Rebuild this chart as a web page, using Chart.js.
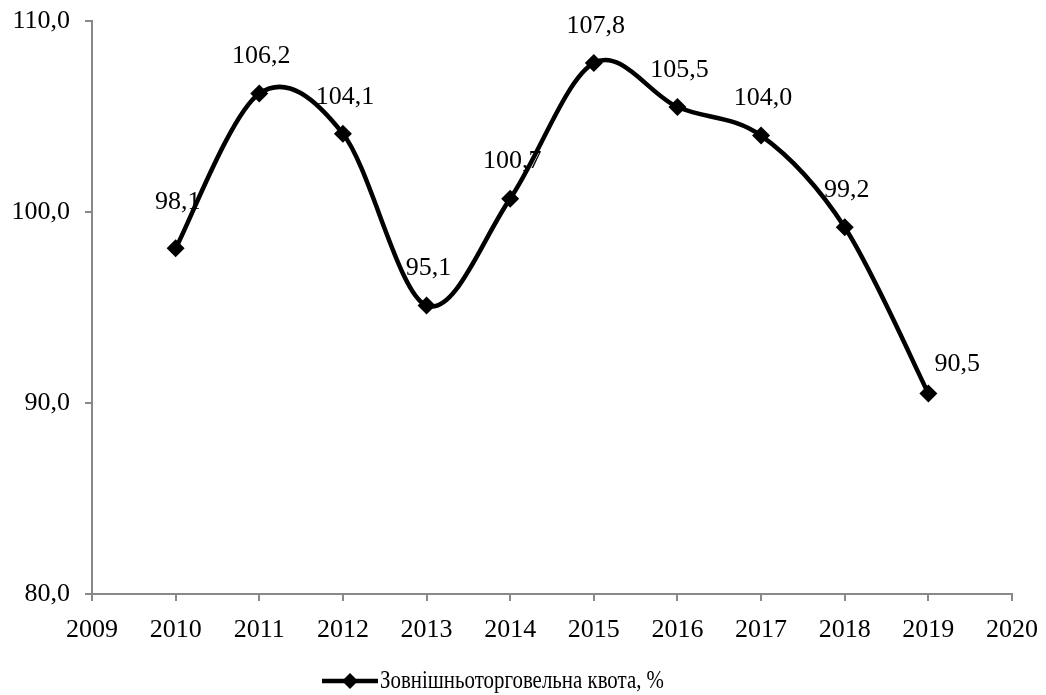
<!DOCTYPE html>
<html>
<head>
<meta charset="utf-8">
<script src="https://cdn.jsdelivr.net/npm/chart.js@4/dist/chart.umd.min.js"></script>
<style>
html, body { margin: 0; padding: 0; background: #fff; }
#wrap { width: 1046px; height: 695px; }
</style>
</head>
<body>
<div id="wrap"><canvas id="graph" width="1046" height="695"></canvas></div>
<script>
var years = [2010, 2011, 2012, 2013, 2014, 2015, 2016, 2017, 2018, 2019];
var quota = [98.1, 106.2, 104.1, 95.1, 100.7, 107.8, 105.5, 104.0, 99.2, 90.5];
var seriesName = "Зовнішньоторговельна квота, %";
var xTicks = [2009, 2010, 2011, 2012, 2013, 2014, 2015, 2016, 2017, 2018, 2019, 2020];
var yTicks = [80, 90, 100, 110];

var serif = '"Liberation Serif", "Times New Roman", serif';
var fontSize = 26;
var axisGray = '#898989';

// label nudges (dx, dy from the point), default sits right above
var labelShift = { 0: [2, -46], 9: [29, -29] };

function comma(v) {
	return v.toFixed(1).replace('.', ',');
}

// value labels go under the line, the curve runs over them
var valueLabels = {
	id: 'valueLabels',
	beforeDatasetsDraw: function(chart) {
		var ctx = chart.ctx;
		var meta = chart.getDatasetMeta(0);
		ctx.save();
		ctx.font = fontSize + 'px ' + serif;
		ctx.fillStyle = '#000';
		ctx.textAlign = 'center';
		ctx.textBaseline = 'middle';
		meta.data.forEach(function(pt, i) {
			var s = labelShift[i] || [2, -37];
			ctx.fillText(comma(quota[i]), pt.x + s[0], pt.y + s[1]);
		});
		ctx.restore();
	}
};

// plain catmull-rom style handles instead of the distance weighted ones,
// gives the rounder office-style smoothing
var evenSpline = {
	id: 'evenSpline',
	beforeDatasetDraw: function(chart, args) {
		var line = args.meta.dataset;
		var pts = args.meta.data;
		var k = 1 / 6;
		line.updateControlPoints(chart.chartArea, 'x');
		pts.forEach(function(p, i) {
			var prev = pts[i - 1] || p, next = pts[i + 1] || p;
			var dx = (next.x - prev.x) * k, dy = (next.y - prev.y) * k;
			p.cp1x = p.x - dx; p.cp1y = p.y - dy;
			p.cp2x = p.x + dx; p.cp2y = p.y + dy;
		});
		line._path = undefined;
	}
};

// legend: line with diamond, then the series name (narrowed a bit)
var bottomLegend = {
	id: 'bottomLegend',
	afterDraw: function(chart) {
		var ctx = chart.ctx;
		var ds = chart.data.datasets[0];
		var y = 681, x0 = 322, x1 = 378, textW = 284;
		ctx.save();
		ctx.strokeStyle = ds.borderColor;
		ctx.lineWidth = ds.borderWidth;
		ctx.beginPath();
		ctx.moveTo(x0, y);
		ctx.lineTo(x1, y);
		ctx.stroke();
		ctx.fillStyle = ds.pointBackgroundColor;
		Chart.helpers.drawPoint(ctx, { pointStyle: 'rectRot', radius: 8, borderWidth: 0 }, (x0 + x1) / 2, y);
		ctx.font = fontSize + 'px ' + serif;
		ctx.fillStyle = '#000';
		ctx.textAlign = 'left';
		ctx.textBaseline = 'middle';
		var w = ctx.measureText(ds.label).width;
		ctx.translate(x1 + 2, y);
		ctx.scale(textW / w, 1);
		ctx.fillText(ds.label, 0, 0);
		ctx.restore();
	}
};

// fixed axis sizes, no extra padding for overhanging tick labels
function fixX(s) {
	s.height = 60;
	s.paddingLeft = 0;
	s.paddingRight = 0;
}
function fixY(s) {
	s.width = 92;
	s.paddingTop = 0;
	s.paddingBottom = 0;
}

var ctx = document.getElementById("graph").getContext("2d");
var myChart = new Chart(ctx, {
	type: 'line',
	data: {
		datasets: [
			{
				label: seriesName,
				data: years.map(function(yr, i) { return { x: yr, y: quota[i] }; }),
				fill: false,
				borderColor: '#000',
				borderWidth: 4.5,
				tension: 0.5,
				pointStyle: 'rectRot',
				pointRadius: 9,
				pointBorderWidth: 0,
				pointBackgroundColor: '#000',
				pointBorderColor: '#000'
			}
		]
	},
	options: {
		responsive: false,
		animation: false,
		layout: { padding: { left: 0, right: 34, top: 21, bottom: 41 } },
		plugins: {
			legend: { display: false },
			tooltip: { enabled: false }
		},
		scales: {
			x: {
				type: 'linear',
				min: 2009,
				max: 2020,
				afterBuildTicks: function(s) { s.ticks = xTicks.map(function(v) { return { value: v }; }); },
				afterFit: fixX,
				grid: { drawOnChartArea: false, drawTicks: true, tickLength: 7, color: axisGray, lineWidth: 2 },
				border: { color: axisGray, width: 2 },
				ticks: {
					color: '#000',
					font: { family: serif, size: fontSize },
					padding: 14,
					maxRotation: 0,
					autoSkip: false,
					callback: function(v) { return String(v); }
				}
			},
			y: {
				min: 80,
				max: 110,
				afterBuildTicks: function(s) { s.ticks = yTicks.map(function(v) { return { value: v }; }); },
				afterFit: fixY,
				grid: { drawOnChartArea: false, drawTicks: true, tickLength: 7, color: axisGray, lineWidth: 2 },
				border: { color: axisGray, width: 2 },
				ticks: {
					color: '#000',
					font: { family: serif, size: fontSize },
					padding: 15,
					callback: function(v) { return comma(v); }
				}
			}
		}
	},
	plugins: [valueLabels, evenSpline, bottomLegend]
});
</script>
</body>
</html>
